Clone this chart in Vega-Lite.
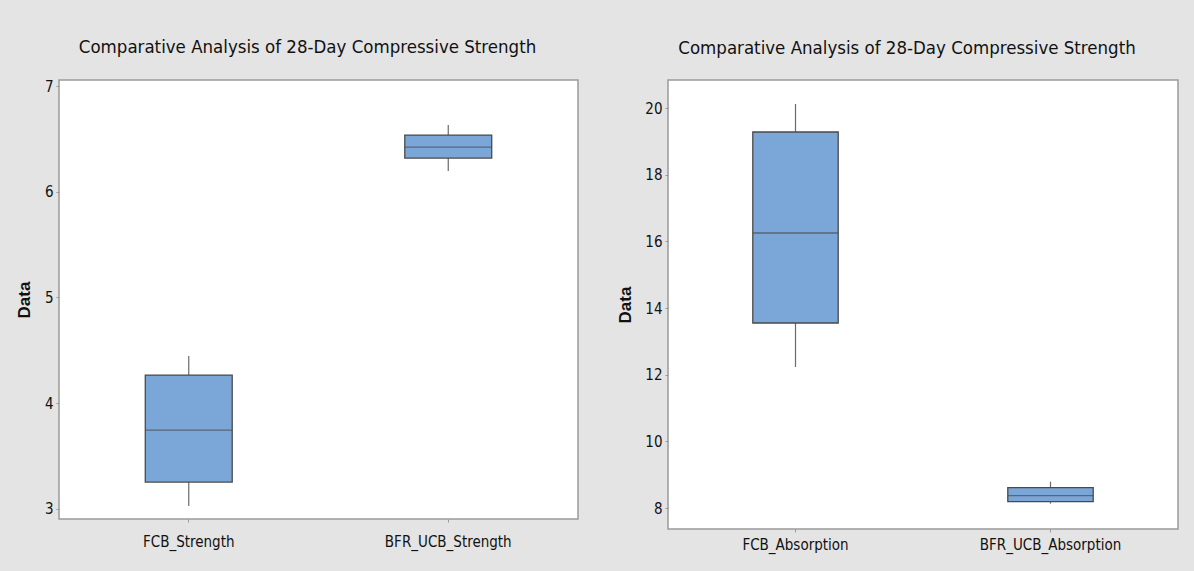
{
  "$schema": "https://vega.github.io/schema/vega-lite/v6.json",
  "background": "#e4e4e4",
  "padding": {"left": 14, "top": 36, "right": 17, "bottom": 20},
  "spacing": 37,
  "datasets": {
    "strength": [
      {"variable": "FCB_Strength", "lower": 3.027, "q1": 3.254, "median": 3.746, "q3": 4.266, "upper": 4.446},
      {"variable": "BFR_UCB_Strength", "lower": 6.196, "q1": 6.319, "median": 6.423, "q3": 6.536, "upper": 6.631}
    ],
    "absorption": [
      {"variable": "FCB_Absorption", "lower": 12.23, "q1": 13.55, "median": 16.25, "q3": 19.28, "upper": 20.12},
      {"variable": "BFR_UCB_Absorption", "lower": 8.13, "q1": 8.19, "median": 8.37, "q3": 8.61, "upper": 8.79}
    ]
  },
  "config": {
    "view": {"fill": "white", "stroke": "#9a9a9a", "strokeWidth": 1.5},
    "font": "Liberation Sans Narrow, DejaVu Sans Condensed, sans-serif",
    "title": {"font": "Liberation Sans Narrow, DejaVu Sans Condensed, sans-serif", "fontSize": 18.5, "fontWeight": "normal", "color": "#111111", "anchor": "middle"},
    "axis": {
      "domain": false, "grid": false, "tickColor": "#9a9a9a", "tickSize": 3,
      "labelFont": "Liberation Sans Narrow, DejaVu Sans Condensed, sans-serif",
      "labelFontSize": 15, "labelColor": "#111111",
      "titleFont": "Liberation Sans, Arial, sans-serif", "titleFontSize": 17, "titleFontWeight": "bold", "titleColor": "#111111"
    }
  },
  "hconcat": [
    {
      "title": {"text": "Comparative Analysis of 28-Day Compressive Strength", "offset": 23, "dx": -11},
      "width": 519,
      "height": 439,
      "data": {"name": "strength"},
      "encoding": {
        "x": {"field": "variable", "type": "nominal", "sort": ["FCB_Strength", "BFR_UCB_Strength"],
              "scale": {"paddingInner": 0, "paddingOuter": 0},
              "axis": {"title": null, "labelAngle": 0, "labelPadding": 12}}
      },
      "layer": [
        {"mark": {"type": "rule", "color": "#6a6a6a", "strokeWidth": 1.2},
         "encoding": {
           "y": {"field": "lower", "type": "quantitative",
                 "scale": {"domain": [2.905, 7.057], "nice": false, "zero": false},
                 "axis": {"title": "Data", "values": [3, 4, 5, 6, 7], "format": "d", "titlePadding": 11, "labelPadding": 3}},
           "y2": {"field": "upper"}}},
        {"mark": {"type": "bar", "color": "#7ba7d8", "stroke": "#4a4a4a", "strokeWidth": 1.3, "width": {"band": 0.335}},
         "encoding": {"y": {"field": "q1", "type": "quantitative"}, "y2": {"field": "q3"}}},
        {"mark": {"type": "tick", "color": "#4a4a4a", "thickness": 1.3, "size": 87},
         "encoding": {"y": {"field": "median", "type": "quantitative"}}}
      ]
    },
    {
      "title": {"text": "Comparative Analysis of 28-Day Compressive Strength", "offset": 23, "dx": -16},
      "width": 510,
      "height": 449,
      "data": {"name": "absorption"},
      "encoding": {
        "x": {"field": "variable", "type": "nominal", "sort": ["FCB_Absorption", "BFR_UCB_Absorption"],
              "scale": {"paddingInner": 0, "paddingOuter": 0},
              "axis": {"title": null, "labelAngle": 0, "labelPadding": 5}}
      },
      "layer": [
        {"mark": {"type": "rule", "color": "#6a6a6a", "strokeWidth": 1.2},
         "encoding": {
           "y": {"field": "lower", "type": "quantitative",
                 "scale": {"domain": [7.37, 20.84], "nice": false, "zero": false},
                 "axis": {"title": "Data", "values": [8, 10, 12, 14, 16, 18, 20], "format": "d", "titlePadding": 10, "labelPadding": 3}},
           "y2": {"field": "upper"}}},
        {"mark": {"type": "bar", "color": "#7ba7d8", "stroke": "#4a4a4a", "strokeWidth": 1.3, "width": {"band": 0.335}},
         "encoding": {"y": {"field": "q1", "type": "quantitative"}, "y2": {"field": "q3"}}},
        {"mark": {"type": "tick", "color": "#4a4a4a", "thickness": 1.3, "size": 85},
         "encoding": {"y": {"field": "median", "type": "quantitative"}}}
      ]
    }
  ]
}
